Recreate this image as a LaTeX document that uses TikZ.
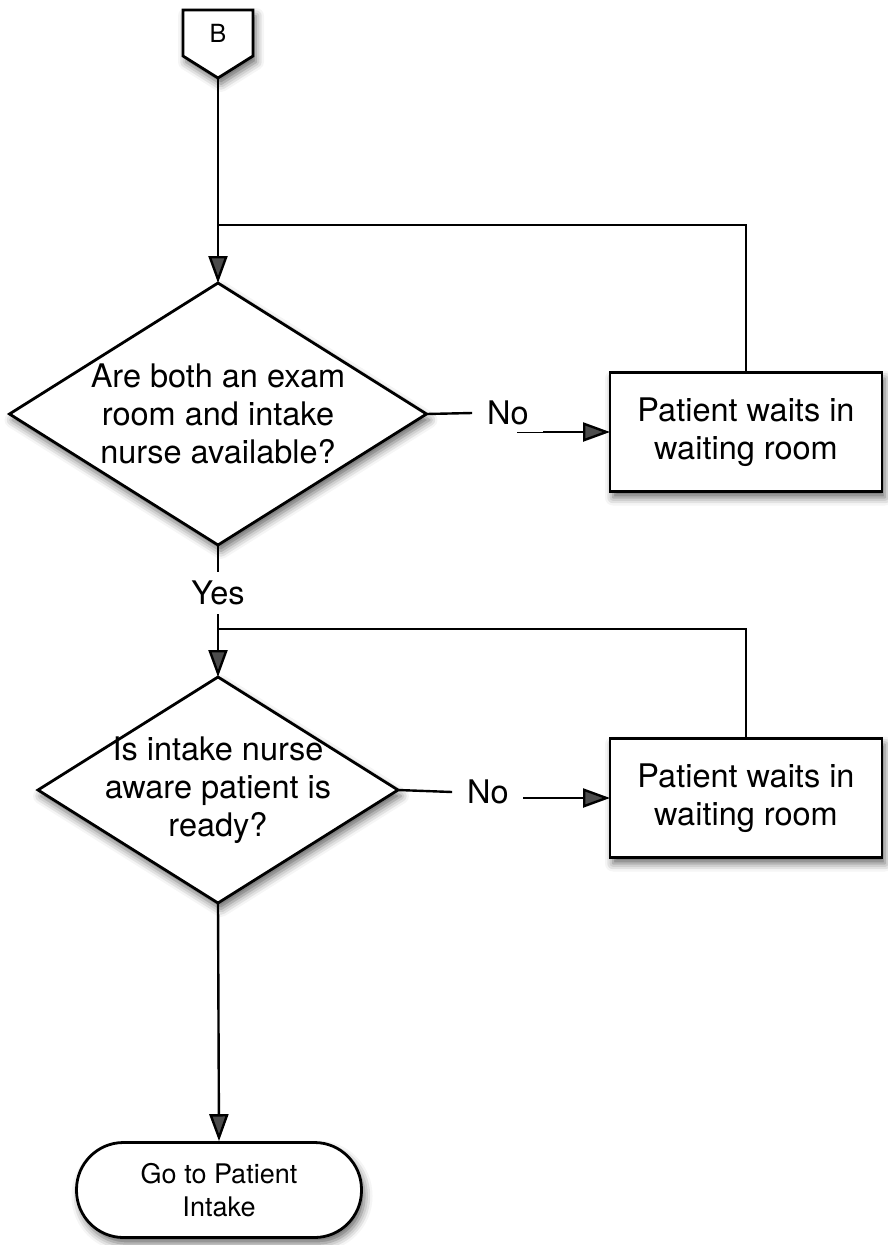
\documentclass[tikz,border=0pt]{standalone}
\usepackage{fontspec}
\setmainfont{TeX Gyre Heros}
\usetikzlibrary{shapes.geometric,arrows.meta,shadows.blur}
\begin{document}
\begin{tikzpicture}[x=1pt,y=-1pt,line width=2.4pt,
  font=\fontsize{32.5}{38}\selectfont,
  soft/.style={blur shadow={shadow xshift=3pt,shadow yshift=-6pt,shadow blur radius=8pt,shadow opacity=60}},
  decision/.style={diamond,draw,fill=white,soft,line width=2.8pt,inner sep=-45pt,outer sep=0pt,align=center},
  waitbox/.style={rectangle,draw,fill=white,soft,line width=2.8pt,minimum width=272pt,minimum height=119pt,outer sep=0pt,align=center},
  lbl/.style={inner xsep=14pt,inner ysep=8pt},
  arr/.style={-{Triangle[length=27pt,width=19pt]}}]
\useasboundingbox (0,0) rectangle (888,1245);

% off-page connector B
\draw[fill=white,soft,line width=2.8pt] (183,10) -- (253,10) -- (253,56) -- (218,78) -- (183,56) -- cycle;
\node[font=\fontsize{25}{30}\selectfont] (B) at (218,33) {B};
\coordinate (Btip) at (218,78);

% shapes
\node[decision,minimum width=417pt,minimum height=262pt] (d1) at (218,414) {Are both an exam\\room and intake\\nurse available?};
\node[waitbox] (w1) at (746,432) {Patient waits in\\waiting room};
\node[decision,minimum width=360pt,minimum height=226pt] (d2) at (218,790) {Is intake nurse\\aware patient is\\ready?};
\node[waitbox] (w2) at (746,798) {Patient waits in\\waiting room};
\node[draw,fill=white,soft,line width=2.8pt,rounded corners=47pt,minimum width=285pt,minimum height=95pt,align=center,
  font=\fontsize{27}{33}\selectfont] (go) at (219,1190) {Go to Patient\\Intake};

% branch labels
\node[lbl] (yes) at (218,593) {Yes};
\node[lbl] (no1) at (508,413) {No};
\node[lbl] (no2) at (488,792) {No};

\coordinate (j1) at (218,225);
\coordinate (j2) at (218,629);
\coordinate (a1) at (543,432);
\coordinate (a2) at (523,798);

% connectors
\draw[arr] (Btip) -- (d1.north);
\draw (d1.east) -- (no1.west);
\draw[line width=0.9pt] (a1) -- +(-26,0);
\draw[arr] (a1) -- (w1.west);
\draw (d1.south) -- (yes.north);
\draw[arr] (yes.south) -- (d2.north);
\draw (d2.east) -- (no2.west);
\draw[arr] (a2) -- (w2.west);
\draw[arr] (d2.south) -- (go.north);
% back to the question
\foreach \j/\w in {j1/w1,j2/w2}
  \draw (\j) -| (\w.north);
\end{tikzpicture}
\end{document}
